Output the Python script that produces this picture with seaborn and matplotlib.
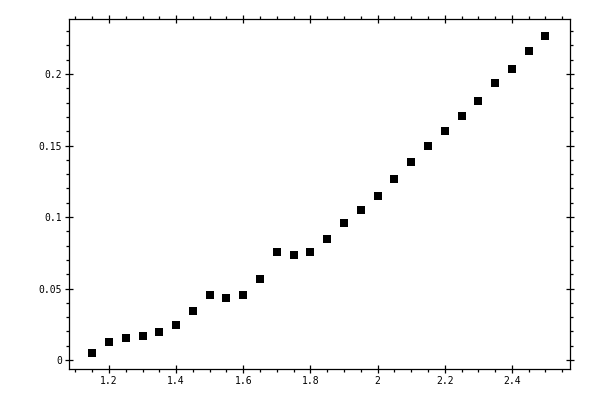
import matplotlib
matplotlib.use("Agg")
import matplotlib.pyplot as plt
import seaborn as sns
from matplotlib.ticker import MultipleLocator, FuncFormatter

# data
x_vals = [1.15, 1.20, 1.25, 1.30, 1.35, 1.40, 1.45, 1.50, 1.55, 1.60,
          1.65, 1.70, 1.75, 1.80, 1.85, 1.90, 1.95, 2.00, 2.05, 2.10,
          2.15, 2.20, 2.25, 2.30, 2.35, 2.40, 2.45, 2.50]
y_vals = [0.0049, 0.0126, 0.0154, 0.0168, 0.0196, 0.0245, 0.0343, 0.0455, 0.0434, 0.0455,
          0.0566, 0.0755, 0.0734, 0.0755, 0.0846, 0.0958, 0.1049, 0.1147, 0.1266, 0.1385,
          0.1497, 0.1601, 0.1706, 0.1811, 0.1937, 0.2035, 0.2161, 0.2266]

sns.set_style("ticks")
plt.rcParams['font.family'] = ['DejaVu Sans Mono', 'DejaVu Sans']

fig = plt.figure(figsize=(6, 4), dpi=100)
ax = fig.add_axes([0.115, 0.0775, 0.835, 0.875])

sns.scatterplot(x=x_vals, y=y_vals, marker='s', color='black', s=28,
                linewidth=0, ax=ax)

ax.set_xlim(1.081, 2.573)
ax.set_ylim(-0.0063, 0.2385)

ax.xaxis.set_major_locator(MultipleLocator(0.2))
ax.xaxis.set_minor_locator(MultipleLocator(0.05))
ax.yaxis.set_major_locator(MultipleLocator(0.05))
ax.yaxis.set_minor_locator(MultipleLocator(0.01))
fmt = FuncFormatter(lambda v, p: '%g' % round(v, 4))
ax.xaxis.set_major_formatter(fmt)
ax.yaxis.set_major_formatter(fmt)

for s in ax.spines.values():
    s.set_visible(True)
    s.set_linewidth(0.9)
    s.set_color('black')

ax.tick_params(which='major', direction='inout', length=6, width=0.9,
               top=True, right=True, labelsize=7, pad=2, colors='black')
ax.tick_params(which='minor', direction='out', length=2.5, width=0.9,
               top=True, right=True, colors='black')

fig.savefig("out.png", dpi=100)
